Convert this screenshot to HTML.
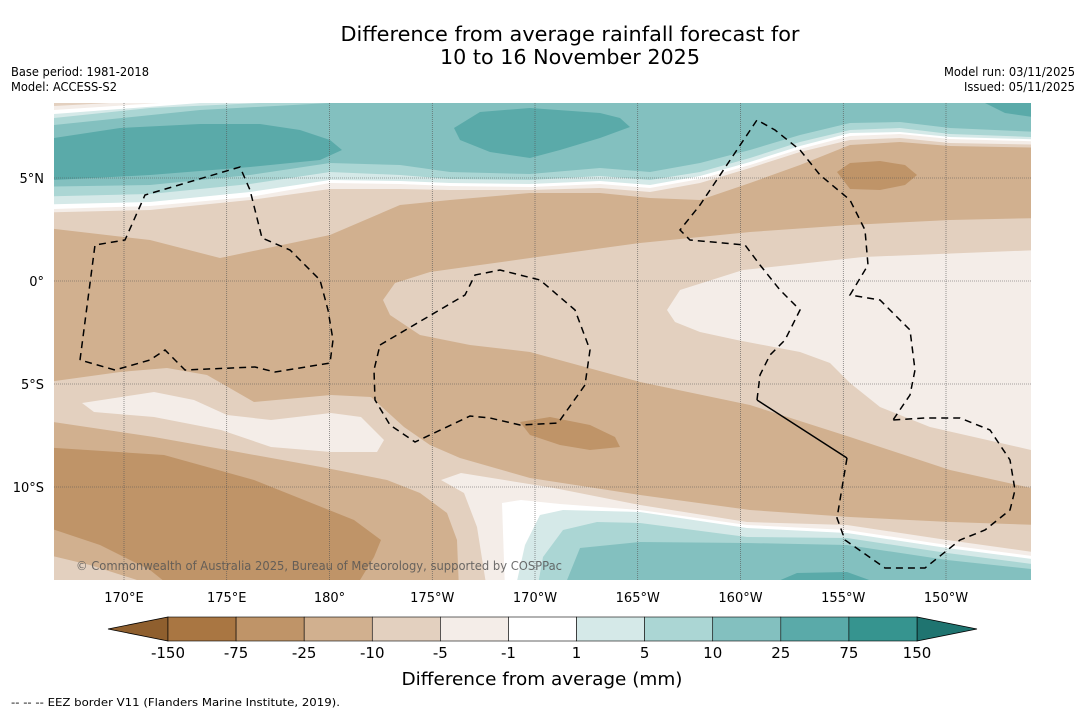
<!DOCTYPE html>
<html><head><meta charset="utf-8">
<style>
body{margin:0;background:#fff;font-family:"DejaVu Sans","Liberation Sans",sans-serif;}
#wrap{position:relative;width:1085px;height:713px;overflow:hidden;background:#fff}
</style></head>
<body>
<div id="wrap">
<svg id="svg" width="1085" height="713" style="position:absolute;left:0;top:0" xmlns="http://www.w3.org/2000/svg"></svg>
</div>
<script>
const cbLabels=["-150","-75","-25","-10","-5","-1","1","5","10","25","75","150"];
const cbColors=["#a97642","#bf9468","#d1b08f","#e3d0bf","#f4ede8","#ffffff","#d5e9e8","#abd6d4","#83c0bf","#5aaaa9","#36948f"];
const lonLabels=["170°E","175°E","180°","175°W","170°W","165°W","160°W","155°W","150°W"];
const lonValues=[170,175,180,185,190,195,200,205,210];
const latLabels=["5°N","0°","5°S","10°S"];
const latValues=[5,0,-5,-10];
const NS="http://www.w3.org/2000/svg";
const svg=document.getElementById('svg');
const FF="DejaVu Sans, Liberation Sans, sans-serif";
const X0=54,X1=1031,Y0=103,Y1=580;
const lonX=v=>124+(v-170)*20.55;
const latY=v=>281-v*20.6;
function mk(tag,attrs,parent){const e=document.createElementNS(NS,tag);for(const k in attrs)e.setAttribute(k,attrs[k]);(parent||svg).appendChild(e);return e;}
function txt(name,s,attrs){const t=mk('text',Object.assign({'font-family':FF},attrs));t.textContent=s;return t;}
txt('chart-title-line1',"Difference from average rainfall forecast for",{x:570,y:41,'font-size':20,'text-anchor':'middle',textLength:459,lengthAdjust:'spacingAndGlyphs'});
txt('chart-title-line2',"10 to 16 November 2025",{x:570,y:64,'font-size':20,'text-anchor':'middle',textLength:260,lengthAdjust:'spacingAndGlyphs'});
txt('base-period-label',"Base period: 1981-2018",{x:11,y:76,'font-size':12,textLength:138,lengthAdjust:'spacingAndGlyphs'});
txt('model-label',"Model: ACCESS-S2",{x:11,y:91,'font-size':12,textLength:106,lengthAdjust:'spacingAndGlyphs'});
txt('model-run-label',"Model run: 03/11/2025",{x:1075,y:76,'font-size':12,'text-anchor':'end',textLength:131,lengthAdjust:'spacingAndGlyphs'});
txt('issued-label',"Issued: 05/11/2025",{x:1075,y:91,'font-size':12,'text-anchor':'end',textLength:111,lengthAdjust:'spacingAndGlyphs'});
txt('eez-footnote',"--  --  -- EEZ border V11 (Flanders Marine Institute, 2019).",{x:11,y:706,'font-size':11,textLength:329,lengthAdjust:'spacingAndGlyphs'});
const C={n150:"#a97642",n75:"#bf9468",n25:"#d1b08f",n10:"#e3d0bf",n5:"#f4ede8",w:"#ffffff",p1:"#d5e9e8",p5:"#abd6d4",p10:"#83c0bf",p25:"#5aaaa9"};
const clip=mk('clipPath',{id:'mc'});mk('rect',{x:X0,y:Y0,width:X1-X0,height:Y1-Y0},clip);
const g=mk('g',{'clip-path':'url(#mc)'});


mk('rect',{x:X0,y:Y0,width:X1-X0,height:Y1-Y0,fill:C.n25},g);
function poly(name,col,pts){const p=mk('polygon',{points:pts,fill:col},g);}
const xs=[54,150,250,330,400,450,530,600,650,700,750,800,850,900,950,1031];
function topRegion(name,col,ys,xv){const xx=xv||xs;let s="20,80 1060,80 ";for(let i=xx.length-1;i>=0;i--)s+=(i==xx.length-1?1060:(i==0?20:xx[i]))+","+ys[i]+" ";poly(name,col,s);}
topRegion('band-minus10-north',C.n10,[225,240,258,235,205,200,193,193,198,200,183,165,145,142,146,148],[54,150,220,330,400,450,530,600,650,700,750,800,850,900,950,1031]);
topRegion('band-minus5-north',C.n5,[213,210,200,189,189,190,190,188,192,183,168,152,140,138,143,145]);
topRegion('band-white-north',C.w,[210,206,197,183,184,186,187,184,188,179,165,149,136,134,139,142]);
topRegion('band-plus1-north',C.p1,[205,202,192,180,181,183,184,181,185,176,162,146,133,132,137,140]);
topRegion('band-plus5-north',C.p5,[197,194,184,172,175,179,180,176,180,172,158,142,130,128,134,138]);
topRegion('band-plus10-north',C.p10,[187,185,175,163,165,172,174,168,172,163,150,135,123,122,128,133]);
poly('corner-plus5',C.p5,"54,103 330,103 200,110 54,125");
poly('corner-plus1',C.p1,"54,103 260,103 150,108 54,118");
poly('corner-white',C.w,"54,103 200,103 54,114");
poly('corner-minus5',C.n5,"54,103 160,103 54,110");
poly('corner-minus10',C.n10,"54,103 110,103 54,106");
poly('blob-plus25-west',C.p25,"54,138 120,128 200,124 260,124 300,130 330,140 342,150 320,160 250,167 150,175 54,180");
poly('blob-plus25-central',C.p25,"454,128 480,112 530,108 600,113 620,118 630,127 600,138 560,150 530,158 490,152 460,140");
poly('blob-plus25-east',C.p25,"985,103 1040,103 1040,118 1005,113");
poly('blob-minus75-northeast',C.n75,"837,172 850,163 880,161 905,165 917,175 905,185 880,190 850,189");
poly('band-minus10-mid',C.n10,"383,300 395,283 430,272 480,265 530,258 640,243 750,232 850,225 950,220 1040,218 1040,490 950,470 850,437 750,405 640,382 530,352 470,345 420,335 390,315");
poly('band-minus5-mid',C.n5,"667,310 680,290 743,270 863,257 1040,250 1040,452 930,427 880,407 850,383 830,363 800,352 737,340 700,332 675,322");
poly('band-minus10-south',C.n10,"40,383 120,372 167,368 207,375 254,402 331,395 371,397 404,427 430,445 460,458 530,478 640,495 750,510 850,517 950,522 1040,525 1040,590 40,590");
poly('band-minus25-southwest',C.n25,"40,420 154,437 227,450 321,467 387,480 420,493 447,513 457,540 459,590 40,590");
poly('blob-minus75-southwest',C.n75,"40,447 164,455 254,480 354,520 381,540 374,557 354,590 175,590 150,570 100,545 40,525");
poly('wedge-minus10-southwest',C.n10,"40,553 90,565 137,580 40,590");
poly('blob-minus5-southwest',C.n5,"82,403 154,392 194,400 227,415 271,420 331,413 361,417 384,440 377,452 331,452 271,447 221,430 154,417 94,412");
poly('blob-minus75-central',C.n75,"520,422 550,417 590,425 615,437 620,447 590,450 560,445 530,435");
poly('band-minus5-south',C.n5,"441,480 461,473 554,488 640,505 747,522 847,525 947,540 1040,553 1040,590 487,590 477,527 464,493");
poly('band-white-south',C.w,"502,503 521,500 560,504 640,510 747,525 847,530 947,545 1040,557 1040,590 505,590");
poly('band-plus1-south',C.p1,"515,590 525,545 540,515 563,510 640,512 747,528 847,533 947,548 1040,560 1040,590");
poly('band-plus5-south',C.p5,"537,590 543,557 563,530 597,522 640,523 747,537 847,538 947,553 1040,565 1040,590");
poly('band-plus10-south',C.p10,"563,590 580,548 640,542 747,543 847,545 947,560 1040,570 1040,590");
poly('blob-plus25-south',C.p25,"757,590 797,573 847,572 897,590");
lonValues.forEach((v,i)=>{const l=mk('line',{x1:lonX(v),x2:lonX(v),y1:Y0,y2:Y1,stroke:'#555','stroke-width':0.6,'stroke-dasharray':'1,1'},g);});
latValues.forEach((v,i)=>{const l=mk('line',{x1:X0,x2:X1,y1:latY(v),y2:latY(v),stroke:'#555','stroke-width':0.6,'stroke-dasharray':'1,1'},g);});
function eez(name,pts,dash){const p=mk('polyline',{points:pts,fill:'none',stroke:'#000','stroke-width':1.5,'stroke-dasharray':dash?'7,5':'none'},g);}
eez('eez-border-west',"80,360 95,245 125,240 145,195 240,167 250,190 262,238 290,250 320,280 328,310 333,340 330,363 275,372 255,367 185,370 165,350 150,360 115,370 80,360",1);
eez('eez-border-central',"380,345 465,295 475,275 500,270 540,280 575,310 590,350 585,385 558,423 520,425 490,418 470,416 415,442 390,425 375,400 374,370 380,345",1);
eez('eez-border-east',"757,400 760,375 770,355 785,340 800,310 780,290 760,265 745,245 690,240 680,230 700,205 757,120 775,130 800,150 820,175 850,200 865,230 868,265 850,295 880,300 910,330 915,370 910,395 893,420",1);
eez('eez-border-east-solid',"757,400 847,458",0);
eez('eez-border-southeast',"847,458 837,518 845,540 885,568 925,568 960,540 985,530 1010,510 1015,490 1010,460 990,430 960,418 925,418 893,420",1);
const cp=mk('text',{x:76,y:570,'font-size':12,fill:'#555','fill-opacity':0.85,'font-family':FF,textLength:486,lengthAdjust:'spacingAndGlyphs'},g);cp.textContent="© Commonwealth of Australia 2025, Bureau of Meteorology, supported by COSPPac";

lonLabels.forEach((s,i)=>{txt('x-tick-label',s,{x:lonX(lonValues[i]),y:602,'font-size':13,'text-anchor':'middle'});});
latLabels.forEach((s,i)=>{txt('y-tick-label',s,{x:44,y:latY(latValues[i])+5,'font-size':13,'text-anchor':'end'});});
const cbL=168,cbR=917,cbT=617,cbB=641,bw=(cbR-cbL)/cbColors.length;
const lt=mk('polygon',{points:`108,629 ${cbL},${cbT} ${cbL},${cbB}`,fill:'#8f5f2e',stroke:'#000','stroke-width':0.8});

const rt=mk('polygon',{points:`977,629 ${cbR},${cbT} ${cbR},${cbB}`,fill:'#1f7470',stroke:'#000','stroke-width':0.8});

cbColors.forEach((c,i)=>{const r=mk('rect',{x:cbL+i*bw,y:cbT,width:bw,height:cbB-cbT,fill:c,stroke:'#000','stroke-width':0.6});});
cbLabels.forEach((s,i)=>{txt('colorbar-tick-label',s,{x:cbL+i*bw,y:658,'font-size':15,'text-anchor':'middle'});});
txt('colorbar-title',"Difference from average (mm)",{x:542,y:685,'font-size':18,'text-anchor':'middle',textLength:281,lengthAdjust:'spacingAndGlyphs'});
</script>
</body></html>
